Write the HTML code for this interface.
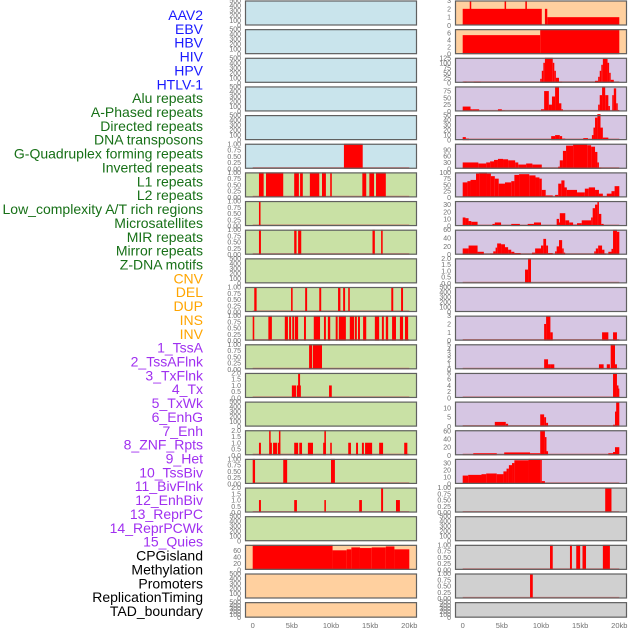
<!DOCTYPE html>
<html><head><meta charset="utf-8"><style>
html,body{margin:0;padding:0;background:#fff;}
svg{display:block;font-family:"Liberation Sans",sans-serif;}
</style></head><body>
<svg id="chart" width="630" height="630" viewBox="0 0 630 630" xmlns="http://www.w3.org/2000/svg"></svg>
<script>
const trackNames = ["AAV2","EBV","HBV","HIV","HPV","HTLV-1","Alu repeats","A-Phased repeats","Directed repeats","DNA transposons","G-Quadruplex forming repeats","Inverted repeats","L1 repeats","L2 repeats","Low_complexity A/T rich regions","Microsatellites","MIR repeats","Mirror repeats","Z-DNA motifs","CNV","DEL","DUP","INS","INV","1_TssA","2_TssAFlnk","3_TxFlnk","4_Tx","5_TxWk","6_EnhG","7_Enh","8_ZNF_Rpts","9_Het","10_TssBiv","11_BivFlnk","12_EnhBiv","13_ReprPC","14_ReprPCWk","15_Quies","CPGisland","Methylation","Promoters","ReplicationTiming","TAD_boundary"];
const trackGroups = ["virus","virus","virus","virus","virus","virus","repeat","repeat","repeat","repeat","repeat","repeat","repeat","repeat","repeat","repeat","repeat","repeat","repeat","sv","sv","sv","sv","sv","hmm","hmm","hmm","hmm","hmm","hmm","hmm","hmm","hmm","hmm","hmm","hmm","hmm","hmm","hmm","other","other","other","other","other"];
// y-axis top value per panel (panel order: column-major)
const yMax = [500,500,500,500,500,1,1,1,1,500,1,1,1,2,500,2,1,2,500,78,500,500,
              3,7.1,125,92,50,119,100,35,60,2,500,3,5,8,13.3,62,36,1,500,1,1,500];
const T500 = ["0","100","200","300","400","500"], T1 = ["0.00","0.25","0.50","0.75","1.00"], T2 = ["0.0","0.5","1.0","1.5","2.0"];
const yTickLabels = [T500,T500,T500,T500,T500,T1,T1,T1,T1,T500,T1,T1,T1,T2,T500,T2,T1,T2,T500,["0","20","40","60"],T500,T500,
  ["0","1","2","3"],["0","2","4","6"],["0","25","50","75","100","125"],["0","25","50","75"],["0","10","20","30","40","50"],["0","30","60","90"],["0","25","50","75","100"],["0","10","20","30"],["0","20","40","60"],T2,T500,["0","1","2","3"],["0","1","2","3","4","5"],["0","2","4","6","8"],["0","5","10"],["0","20","40","60"],["0","10","20","30"],T1,T500,T1,T1,T500];
// segments: [startKb, endKb, value]
const segAAV2=[], segEBV=[], segHBV=[], segHIV=[], segHPV=[];
const segHTLV1=[[11.65,14.05,1]];
const segAlu=[[0.8,1.4,1],[1.7,3.9,1],[5.3,5.9,1],[6.05,6.4,1],[7.3,8.5,1],[8.85,9.35,1],[9.9,10.1,1],[14,14.5,1],[14.9,15.5,1],[15.75,17,1]];
const segAPhased=[[0.8,1.0,1]];
const segDirected=[[0.8,1.05,1],[5.3,5.6,1],[5.8,6.2,1],[15.3,15.6,1],[16.4,16.6,1]];
const segDNATrans=[];
const segGQuad=[[0.2,0.5,1],[4.9,5.1,1],[6.7,6.95,1],[8.5,8.75,1],[10.9,11.2,1],[11.55,11.8,1],[12.2,12.4,1],[17.7,17.95,1],[18.95,19.2,1]];
const segInverted=[[0,0.2,1],[2.0,2.45,1],[4.1,4.5,1],[4.65,4.9,1],[5.05,5.3,1],[5.4,5.8,1],[6.55,6.8,1],[7.8,8.6,1],[9.1,9.35,1],[9.6,9.9,1],[10.6,10.85,1],[11.0,11.9,1],[12.4,12.95,1],[13.05,13.3,1],[13.45,13.7,1],[14.1,14.5,1],[15.6,16.15,1],[16.5,16.75,1],[17.0,17.3,1],[17.8,18.3,1],[18.8,19.2,1],[19.45,19.85,1]];
const segL1=[[7.2,7.6,1],[7.7,8.85,1]];
const segL2=[[5.0,5.55,1],[5.65,6.15,1],[5.8,6.05,2],[9.75,10.1,1]];
const segLowComplex=[];
const segMicrosat=[[0.8,1.05,1],[2.1,2.2,2],[2.2,2.45,1],[2.6,3.1,1],[3.2,3.5,1],[3.35,3.5,2],[5.3,5.8,1],[5.95,6.3,1],[7.05,7.7,1],[9.0,9.35,1],[9.15,9.35,2],[9.9,10.1,1],[12.2,12.55,1],[13.2,13.45,1],[13.95,14.2,1],[14.35,15.25,1],[16.15,16.65,1],[19.35,19.75,1]];
const segMIR=[[0,0.3,1],[3.9,4.4,1],[10.0,10.5,1]];
const segMirror=[[0.8,1.05,1],[5.3,5.65,1],[9.15,9.35,1],[13.6,13.95,1],[16.4,16.65,2],[18.3,18.8,1]];
const segZDNA=[];
const segCNV=[[0,10.2,78],[10.2,12,61],[12,12.6,64],[12.6,13.7,70],[13.7,15.2,68],[15.2,17,70],[17,18.1,73],[18.1,20,64]];
const segDEL=[], segDUP=[];
const segINS=[[0,10.1,2],[10.5,10.8,2],[10.8,20,1],[0.9,1.05,3],[5.35,5.5,3],[8.0,8.2,3]];
const segINV=[[0,9.9,5.4],[9.9,20,7.1]];
const segTssA=[[0.2,0.5,5],[1.4,2.3,5],[9.9,10.1,20],[10.1,10.3,60],[10.3,10.5,100],[10.5,11.5,125],[11.5,11.7,100],[11.7,11.9,60],[11.9,12.3,25],[12.3,12.7,5],[16.9,17.3,10],[17.3,17.5,30],[17.5,17.7,60],[17.7,17.9,90],[17.9,18.5,120],[18.5,18.7,100],[18.7,18.9,50],[18.9,19.3,15]];
const segTssAFlnk=[[0,1.0,18],[1.0,1.3,8],[1.3,2.1,8],[4.5,5.0,8],[5.0,5.4,4],[10.0,10.4,8],[10.4,11.0,75],[11.0,11.4,25],[11.4,11.8,55],[11.8,12.3,92],[12.3,12.6,30],[12.6,12.8,8],[17.3,17.5,25],[17.5,17.8,60],[17.8,18.2,92],[18.2,18.6,60],[18.6,18.8,20],[19.1,19.3,60],[19.3,19.6,85],[19.6,19.8,30],[19.8,20,5]];
const segTxFlnk=[[0,0.4,6],[0.4,0.8,3],[11.3,11.8,8],[11.8,12.4,10],[12.4,12.7,8],[12.7,13.1,3],[15.4,16.0,4],[16.5,16.7,10],[16.7,16.9,25],[16.9,17.2,45],[17.2,17.6,52],[17.6,17.9,25],[17.9,18.6,5]];
const segTx=[[0,2.0,30],[2.0,3.0,25],[3.0,3.5,30],[3.5,4.0,35],[4.0,4.5,42],[4.5,5.15,47],[5.15,5.8,45],[5.8,6.7,40],[6.7,7.1,30],[7.1,8.1,20],[8.1,8.9,25],[8.9,10.1,20],[12.2,12.4,10],[12.4,12.8,40],[12.8,13.2,85],[13.2,14.1,110],[14.1,15.9,118],[15.9,16.4,112],[16.4,16.9,105],[16.9,17.2,80],[17.2,17.4,30],[17.4,17.7,5]];
const segTxWk=[[0,0.6,60],[0.6,1.0,65],[1.0,1.7,70],[1.7,2.1,95],[2.1,3.1,100],[3.1,3.6,95],[3.6,4.1,85],[4.1,4.6,75],[4.6,5.4,55],[5.4,6.2,60],[6.2,6.6,65],[6.6,7.2,90],[7.2,8.5,93],[8.5,9.3,88],[9.3,9.8,80],[9.8,10.1,75],[10.1,10.6,30],[10.6,11.5,8],[11.8,12.2,10],[12.2,12.6,55],[12.6,13.0,68],[13.0,13.3,40],[13.3,14.6,30],[14.6,15.6,20],[15.6,16.1,35],[16.1,16.9,40],[16.9,17.4,30],[17.4,17.9,15],[17.9,18.4,5],[18.4,19.0,15],[19.0,19.4,25],[19.4,20,45]];
const segEnhG=[[0,0.35,12],[0.35,0.75,11],[0.75,1.1,7],[1.1,1.9,6],[3.8,4.1,3],[4.1,4.9,5],[6.2,7.3,3],[8.3,9.1,3],[9.1,10.0,5],[12.0,12.3,10],[12.3,12.4,5],[12.4,13.1,18],[13.1,13.6,8],[13.6,14.1,5],[14.1,14.6,2],[14.6,15.2,4],[15.2,16.4,8],[16.4,16.6,12],[16.6,16.9,25],[16.9,17.2,30],[17.2,17.4,35],[17.4,17.7,17],[17.7,18.0,3]];
const segEnh=[[0,0.75,15],[0.75,1.9,22],[1.9,2.7,7],[3.5,3.9,3],[3.9,4.2,8],[4.2,4.4,17],[4.4,4.9,27],[4.9,5.4,25],[5.4,5.8,18],[5.8,6.2,12],[6.2,6.6,7],[6.6,7.4,4],[8.85,9.25,5],[9.25,10.0,15],[10.0,10.3,22],[10.3,10.65,38],[10.65,10.9,22],[10.9,11.5,4],[11.8,12.0,8],[12.0,12.3,20],[12.3,12.7,35],[12.7,12.9,15],[12.9,13.0,5],[16.8,17.0,8],[17.0,17.3,15],[17.3,17.8,22],[17.8,18.1,12],[18.1,18.3,3],[18.6,19.0,7],[19.0,19.2,14],[19.2,19.7,60],[19.7,20,55]];
const segZNF=[[7.96,8.35,1.1],[8.35,8.72,2.0]];
const segHet=[];
const segTssBiv=[[10.4,10.65,2],[10.65,11.2,3],[11.2,11.5,1],[17.8,18.6,1],[19.2,19.7,1]];
const segBivFlnk=[[10.4,10.9,2],[10.9,11.2,1],[11.2,11.7,1],[17.4,18.0,1],[18.4,18.8,1],[18.9,19.45,5],[19.45,19.7,1]];
const segEnhBiv=[[19.2,19.7,8],[19.7,19.8,4],[19.8,20,3]];
const segReprPC=[[4.1,5.5,2.5],[5.5,5.8,1.5],[9.9,10.4,6.5],[10.4,10.65,5],[10.65,10.9,2],[19.2,19.45,1],[19.45,19.6,8],[19.6,20,13]];
const segReprPCWk=[[1.35,4.35,5],[5.3,8.6,7],[8.6,9.9,5],[9.9,10.5,62],[10.5,10.7,45],[10.7,10.9,10],[18.6,19.2,5],[19.2,19.45,8],[19.45,20,20]];
const segQuies=[[0,0.7,12],[0.7,2.4,13],[2.4,3.0,14],[3.0,4.35,15],[4.35,5.2,14],[5.2,5.6,18],[5.6,5.9,22],[5.9,6.3,27],[6.3,6.6,30],[6.6,8.4,34],[8.4,9.9,36],[9.9,10.1,35],[10.1,10.5,4]];
const segCPG=[[18.2,19.0,1]];
const segMethyl=[];
const segPromoters=[[11.15,11.5,1],[13.7,13.95,1],[14.5,15.0,1],[15.3,15.75,1],[17.9,18.8,1]];
const segRepTiming=[[8.6,8.95,1]];
const segTAD=[];
const trackSegments=[segAAV2,segEBV,segHBV,segHIV,segHPV,segHTLV1,segAlu,segAPhased,segDirected,segDNATrans,segGQuad,segInverted,segL1,segL2,segLowComplex,segMicrosat,segMIR,segMirror,segZDNA,segCNV,segDEL,segDUP,segINS,segINV,segTssA,segTssAFlnk,segTxFlnk,segTx,segTxWk,segEnhG,segEnh,segZNF,segHet,segTssBiv,segBivFlnk,segEnhBiv,segReprPC,segReprPCWk,segQuies,segCPG,segMethyl,segPromoters,segRepTiming,segTAD];
const xTickKb=[0,5,10,15,20];
const xTickLabels=["0","5kb","10kb","15kb","20kb"];

const NS="http://www.w3.org/2000/svg";
const svg=document.getElementById("chart");
const groupFill={virus:"#c9e4ec",repeat:"#c9e1a5",sv:"#ffd09f",hmm:"#d6c6e3",other:"#d0d0d0"};
const labelColor={virus:"#1a1aff",repeat:"#177017",sv:"#ffa500",hmm:"#a030f0",other:"#000000"};
function mk(tag,attrs,parent){const e=document.createElementNS(NS,tag);for(const k in attrs)e.setAttribute(k,attrs[k]);(parent||svg).appendChild(e);return e;}
const colLeft=[245,455], colX0=[252.7,462.7], PW=172, pxPerKb=7.83;
function xScale(col,kb){return colX0[col]+kb*pxPerKb;}
function rowTop(r){return 0.5+r*28.65;}
function rowH(r){return r===21?15.5:25;}

// labels
trackNames.forEach((n,i)=>{
  const t=mk("text",{x:203,y:15+i*13.86+5,"text-anchor":"end","font-size":"14",fill:labelColor[trackGroups[i]]});
  t.textContent=n;
  
  
});

trackNames.forEach((n,i)=>{
  const col=i<22?0:1, r=i%22, top=rowTop(r), h=rowH(r), bot=top+h;
  const g=mk("g",{});
  
  
  mk("rect",{x:colLeft[col],y:top,width:PW,height:h,fill:groupFill[trackGroups[i]]},g);
  const ys=v=>bot-(v/yMax[i])*h;
  const segs=trackSegments[i];
  if(segs.length){
    const bl=mk("line",{x1:xScale(col,0),x2:xScale(col,20),y1:bot-0.8,y2:bot-0.8,stroke:"#d06060","stroke-width":1.6,opacity:0.8},g);
    
    
  }
  segs.forEach(s=>{
    const x1=xScale(col,s[0]), x2=xScale(col,s[1]);
    const b=mk("rect",{x:x1,y:ys(s[2]),width:Math.max(1.5,x2-x1),height:bot-ys(s[2]),fill:"#ff0000"},g);
    
    
  });
  mk("rect",{x:colLeft[col]+0.5,y:top+0.5,width:PW-1,height:h-1,fill:"none",stroke:"#606060","stroke-width":1.2},g);
  const labs=yTickLabels[i], n2=labs.length;
  const tickTop=(yMax[i]===500||yMax[i]===1||yMax[i]===2||yMax[i]===3)?1:0;
  labs.forEach((lab,k)=>{
    const v=parseFloat(lab);
    let y=ys(v);
    const t=mk("text",{x:colLeft[col]-4,y:y+2.5,"text-anchor":"end","font-size":"7",fill:"#707070"},g);
    t.textContent=lab;
    
    
  });
});

[0,1].forEach(col=>{
  xTickKb.forEach((kb,k)=>{
    const t=mk("text",{x:xScale(col,kb),y:628,"text-anchor":"middle","font-size":"7.5",fill:"#707070"});
    t.textContent=xTickLabels[k];
    
    
  });
});
</script>
</body></html>
